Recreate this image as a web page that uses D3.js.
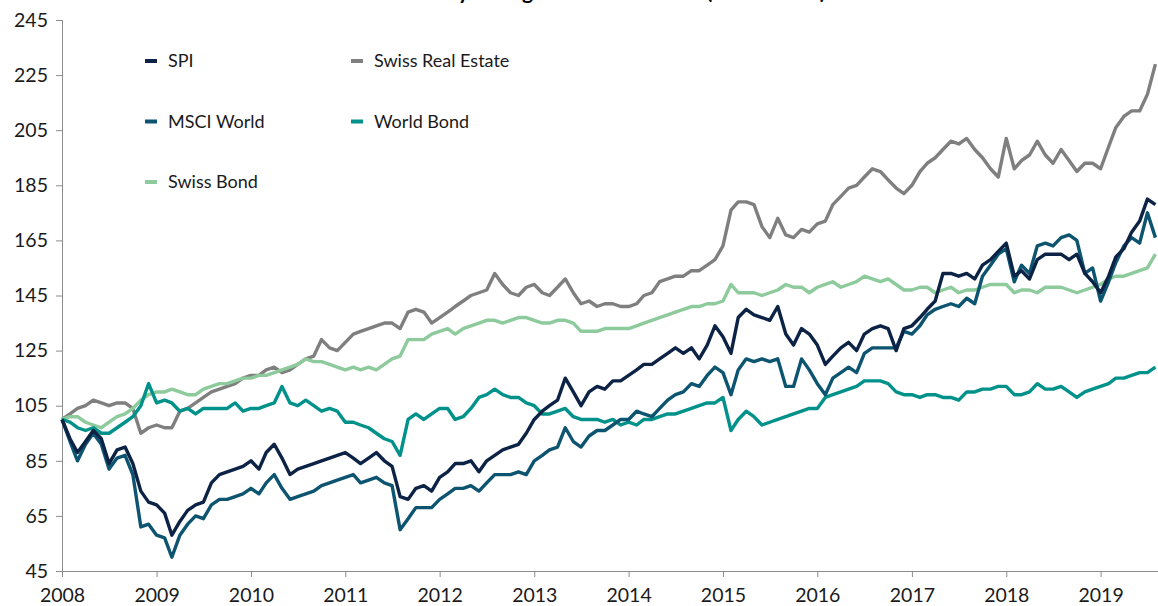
<!DOCTYPE html>
<html>
<head>
<meta charset="utf-8">
<script src="https://cdn.jsdelivr.net/npm/d3@7"></script>
<style>
	body { margin: 0; background: #fff; }
	#chart { width: 1158px; height: 606px; overflow: hidden; }
	text { font-family: Lato, 'DejaVu Sans', sans-serif; }
</style>
</head>
<body>
<div id="chart"></div>
<script>
// monthly observations, Jan 2008 .. Aug 2019 (indexed, 2008 = 100)
let startMonth = new Date(2008, 0, 1)
let endMonth = new Date(2019, 8, 1)

let spi = [100, 93, 88, 92, 96, 93, 84, 89, 90, 84, 74, 70,
	69, 66, 58, 63, 67, 69, 70, 77, 80, 81, 82, 83,
	85, 82, 88, 91, 86, 80, 82, 83, 84, 85, 86, 87,
	88, 86, 84, 86, 88, 85, 83, 72, 71, 75, 76, 74,
	79, 81, 84, 84, 85, 81, 85, 87, 89, 90, 91, 95,
	100, 103, 105, 107, 115, 110, 105, 110, 112, 111, 114, 114,
	116, 118, 120, 120, 122, 124, 126, 124, 126, 122, 127, 134,
	130, 124, 137, 140, 138, 137, 136, 141, 131, 127, 133, 131,
	127, 120, 123, 126, 128, 125, 131, 133, 134, 133, 125, 133,
	134, 137, 140, 143, 153, 153, 152, 153, 151, 156, 158, 161,
	164, 152, 154, 151, 158, 160, 160, 160, 158, 160, 153, 150,
	146, 152, 159, 162, 168, 172, 180, 178]

let msciWorld = [100, 92, 85, 91, 95, 91, 82, 86, 87, 80, 61, 62,
	58, 57, 50, 58, 62, 65, 64, 69, 71, 71, 72, 73,
	75, 73, 77, 80, 75, 71, 72, 73, 74, 76, 77, 78,
	79, 80, 77, 78, 79, 77, 76, 60, 64, 68, 68, 68,
	71, 73, 75, 75, 76, 74, 77, 80, 80, 80, 81, 80,
	85, 87, 89, 90, 97, 92, 90, 94, 96, 96, 98, 100,
	100, 103, 102, 101, 104, 107, 109, 110, 113, 112, 116, 119,
	117, 109, 118, 122, 121, 122, 121, 122, 112, 112, 122, 118,
	113, 109, 115, 117, 119, 117, 124, 126, 126, 126, 126, 132,
	131, 134, 138, 140, 141, 142, 141, 144, 142, 152, 156, 160,
	162, 150, 156, 153, 163, 164, 163, 166, 167, 165, 153, 155,
	143, 150, 157, 163, 166, 164, 175, 166]

let swissRealEstate = [100, 102, 104, 105, 107, 106, 105, 106, 106, 104, 95, 97,
	98, 97, 97, 103, 104, 106, 108, 110, 111, 112, 113, 115,
	116, 116, 118, 119, 117, 118, 120, 122, 123, 129, 126, 125,
	128, 131, 132, 133, 134, 135, 135, 133, 139, 140, 139, 135,
	137, 139, 141, 143, 145, 146, 147, 153, 149, 146, 145, 148,
	149, 146, 145, 148, 151, 146, 142, 143, 141, 142, 142, 141,
	141, 142, 145, 146, 150, 151, 152, 152, 154, 154, 156, 158,
	163, 176, 179, 179, 178, 170, 166, 173, 167, 166, 169, 168,
	171, 172, 178, 181, 184, 185, 188, 191, 190, 187, 184, 182,
	185, 190, 193, 195, 198, 201, 200, 202, 198, 195, 191, 188,
	202, 191, 194, 196, 201, 196, 193, 198, 194, 190, 193, 193,
	191, 199, 206, 210, 212, 212, 218, 229]

let worldBond = [100, 99, 97, 96, 97, 95, 95, 97, 99, 101, 105, 113,
	106, 107, 106, 103, 104, 102, 104, 104, 104, 104, 106, 103,
	104, 104, 105, 106, 112, 106, 105, 107, 105, 103, 104, 103,
	99, 99, 98, 97, 95, 93, 92, 87, 100, 102, 100, 102,
	104, 104, 100, 101, 104, 108, 109, 111, 109, 108, 108, 106,
	105, 102, 102, 103, 104, 101, 100, 100, 100, 99, 100, 98,
	99, 98, 100, 100, 101, 102, 102, 103, 104, 105, 106, 106,
	108, 96, 100, 103, 101, 98, 99, 100, 101, 102, 103, 104,
	104, 108, 109, 110, 111, 112, 114, 114, 114, 113, 110, 109,
	109, 108, 109, 109, 108, 108, 107, 110, 110, 111, 111, 112,
	112, 109, 109, 110, 113, 111, 111, 112, 110, 108, 110, 111,
	112, 113, 115, 115, 116, 117, 117, 119]

let swissBond = [100, 101, 101, 99, 98, 97, 99, 101, 102, 104, 107, 109,
	110, 110, 111, 110, 109, 109, 111, 112, 113, 113, 114, 115,
	115, 116, 116, 117, 118, 119, 120, 122, 121, 121, 120, 119,
	118, 119, 118, 119, 118, 120, 122, 123, 129, 129, 129, 131,
	132, 133, 131, 133, 134, 135, 136, 136, 135, 136, 137, 137,
	136, 135, 135, 136, 136, 135, 132, 132, 132, 133, 133, 133,
	133, 134, 135, 136, 137, 138, 139, 140, 141, 141, 142, 142,
	143, 149, 146, 146, 146, 145, 146, 147, 149, 148, 148, 146,
	148, 149, 150, 148, 149, 150, 152, 151, 150, 151, 149, 147,
	147, 148, 148, 146, 147, 148, 146, 147, 147, 148, 149, 149,
	149, 146, 147, 147, 146, 148, 148, 148, 147, 146, 147, 148,
	149, 151, 152, 152, 153, 154, 155, 160]

let seriesNames = ['SPI', 'MSCI World', 'Swiss Bond', 'Swiss Real Estate', 'World Bond']
let seriesValues = [spi, msciWorld, swissBond, swissRealEstate, worldBond]
let seriesColors = ['#0c2345', '#0d5470', '#8dca9c', '#7f7f7f', '#00928a']
// drawing order, back to front
let drawOrder = [3, 2, 4, 1, 0]

let yTicks = [45, 65, 85, 105, 125, 145, 165, 185, 205, 225, 245]
let xTickYears = [2008, 2009, 2010, 2011, 2012, 2013, 2014, 2015, 2016, 2017, 2018, 2019]

let titleText = 'Weekly total growth of CHF 100 (2008 = 100)'

let width = 1158
let height = 606
let margin = { left: 62, top: 20, bottom: 35 }

let dates = d3.timeMonth.range(startMonth, endMonth)

let svg = d3
	.select('#chart')
	.append('svg:svg')
	.attr('width', width)
	.attr('height', height)

let x = d3
	.scaleTime()
	.domain([startMonth, new Date(2019, 7, 11)])
	.range([margin.left, width])

let y = d3
	.scaleLinear()
	.domain([45, 245])
	.range([height - margin.bottom, margin.top])

// title, mostly above the visible area (cut off as in the source)
svg
	.append('svg:text')
	.attr('x', 612)
	.attr('y', -1)
	.attr('text-anchor', 'middle')
	.attr('font-size', 21)
	.attr('font-weight', 'bold')
	.attr('fill', '#000')
	.text(titleText)

// y axis
let yAxis = svg
	.append('g')
	.attr('transform', `translate(${margin.left},0)`)
	.call(d3.axisLeft(y).tickValues(yTicks).tickSize(6).tickPadding(8))
yAxis.select('.domain').attr('stroke', '#8c8c8c')
yAxis.selectAll('.tick line').attr('stroke', '#8c8c8c')
yAxis
	.selectAll('.tick text')
	.attr('font-size', 19.5)
	.attr('fill', '#1a1a1a')

// x axis
let xAxis = svg
	.append('g')
	.attr('transform', `translate(0,${height - margin.bottom})`)
	.call(
		d3
			.axisBottom(x)
			.tickValues(xTickYears.map(yr => new Date(yr, 0, 1)))
			.tickFormat(d3.timeFormat('%Y'))
			.tickSize(6)
			.tickSizeOuter(0)
			.tickPadding(11)
	)
xAxis.select('.domain').attr('stroke', '#8c8c8c')
xAxis.selectAll('.tick line').attr('stroke', '#8c8c8c')
xAxis
	.selectAll('.tick text')
	.attr('font-size', 19.5)
	.attr('fill', '#1a1a1a')

let line = d3
	.line()
	.x((d, i) => x(dates[i]))
	.y(d => y(d))

drawOrder.forEach(k => {
	svg
		.append('svg:path')
		.attr('d', line(seriesValues[k]))
		.attr('fill', 'none')
		.attr('stroke', seriesColors[k])
		.attr('stroke-width', 3.4)
		.attr('stroke-linejoin', 'round')
})

// legend: two columns, three rows
let legendItems = [
	{ k: 0, col: 0, row: 0 },
	{ k: 1, col: 0, row: 1 },
	{ k: 2, col: 0, row: 2 },
	{ k: 3, col: 1, row: 0 },
	{ k: 4, col: 1, row: 1 }
]
legendItems.forEach(item => {
	let lx = 145 + item.col * 206
	let ly = 61 + item.row * 60.5
	svg
		.append('svg:rect')
		.attr('x', lx)
		.attr('y', ly - 2)
		.attr('width', 12)
		.attr('height', 4)
		.attr('fill', seriesColors[item.k])
	svg
		.append('svg:text')
		.attr('x', lx + 23)
		.attr('y', ly + 6)
		.attr('font-size', 18)
		.attr('fill', '#1a1a1a')
		.text(seriesNames[item.k])
})
</script>
</body>
</html>
